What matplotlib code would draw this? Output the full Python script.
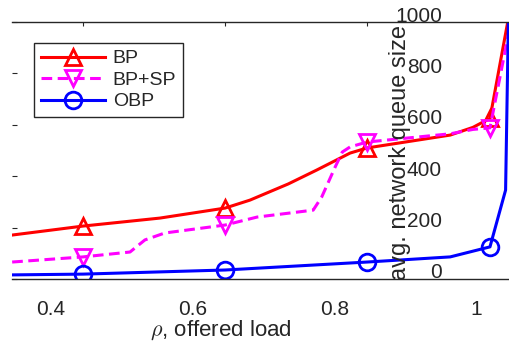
import numpy as np
import matplotlib
matplotlib.use("Agg")
import matplotlib.pyplot as plt
import matplotlib.transforms as mtransforms

plt.rcParams['font.family'] = ['Liberation Sans', 'DejaVu Sans']
plt.rcParams['mathtext.fontset'] = 'cm'

# Data
rho_bp = [0.346, 0.446, 0.554, 0.646, 0.681, 0.735, 0.775, 0.822, 0.846, 0.963, 0.995, 1.019, 1.044]
q_bp = [171, 206, 237, 276, 307, 370, 424, 490, 510, 560, 590, 625, 1000]
mk_bp = [1, 3, 8, 11]

rho_sp = [0.346, 0.446, 0.512, 0.533, 0.561, 0.646, 0.691, 0.770, 0.782, 0.801, 0.811,
          0.822, 0.846, 0.963, 0.995, 1.019, 1.0455]
q_sp = [66, 86, 105, 152, 179, 210, 241, 268, 319, 436, 494, 514, 533, 565, 582, 588, 960]
mk_sp = [1, 5, 12, 15]

rho_obp = [0.346, 0.446, 0.646, 0.846, 0.963, 1.019, 1.041, 1.0455]
q_obp = [16, 19, 35, 66, 86, 125, 346, 1100]
mk_obp = [1, 2, 3, 5]

xticks = [0.4, 0.6, 0.8, 1.0]
xticklabels = ['0.4', '0.6', '0.8', '1']
yticks = [0, 200, 400, 600, 800, 1000]
top_ticks = [0.4458, 0.6458, 0.8458]

txt = '#262626'

fig = plt.figure(figsize=(5.1, 3.49), dpi=100)
ax = fig.add_axes([12/510, 1-279/349, 497/510, 257/349])

ax.plot(rho_bp, q_bp, color='r', lw=2.2, marker='^', markevery=mk_bp,
        ms=12, mfc='none', mew=2, label='BP')
ax.plot(rho_sp, q_sp, color='#ff00ff', lw=2.2, ls=(0, (3.5, 1.8)), marker='v',
        markevery=mk_sp, ms=12, mfc='none', mew=2, label='BP+SP')
ax.plot(rho_obp, q_obp, color='b', lw=2.2, marker='o', markevery=mk_obp,
        ms=12, mfc='none', mew=2, label='OBP')

ax.set_xlim(0.3458, 1.0458)
ax.set_ylim(0, 1000)

ax.spines['left'].set_visible(False)
ax.spines['right'].set_visible(False)
for s in ['top', 'bottom']:
    ax.spines[s].set_color('#262626')
    ax.spines[s].set_linewidth(1.0)

# bottom tick labels only
ax.set_xticks(xticks)
ax.set_xticklabels(xticklabels, fontsize=15, color=txt)
ax.tick_params(axis='x', length=0, pad=15)

# left ticks inward, labels drawn inside the plot
ax.set_yticks(yticks)
ax.set_yticklabels([])
ax.tick_params(axis='y', direction='in', length=3.5, color='#262626')
trans = mtransforms.blended_transform_factory(ax.transAxes, ax.transData)
for v in yticks:
    ax.text(0.865, v, str(v), transform=trans, ha='right', va='center',
            fontsize=15, color=txt).set_transform(
        trans + mtransforms.ScaledTranslation(0, 6/100, fig.dpi_scale_trans))

sec = ax.secondary_xaxis('top')
sec.set_xticks(top_ticks)
sec.set_xticklabels([])
sec.tick_params(direction='in', length=3, color='#262626')
sec.spines['top'].set_visible(False)

ax.text((221-12)/497, -(330-279)/257, r'$\rho$, offered load', transform=ax.transAxes,
        ha='center', va='center', fontsize=16, color=txt)
ax.text((400-12)/497, (279-152)/257, 'avg. network queue size', transform=ax.transAxes,
        ha='center', va='center', rotation=90, fontsize=17, color=txt)

leg = ax.legend(loc='upper left', bbox_to_anchor=((34-12)/497, (279-43)/257),
                borderaxespad=0, fontsize=14, handlelength=3.3, labelspacing=0.2,
                fancybox=False, edgecolor='#262626', framealpha=1,
                borderpad=0.35, handletextpad=0.4)
leg.get_frame().set_linewidth(1.0)
for t in leg.get_texts():
    t.set_color(txt)

fig.savefig('out.png', dpi=100)
